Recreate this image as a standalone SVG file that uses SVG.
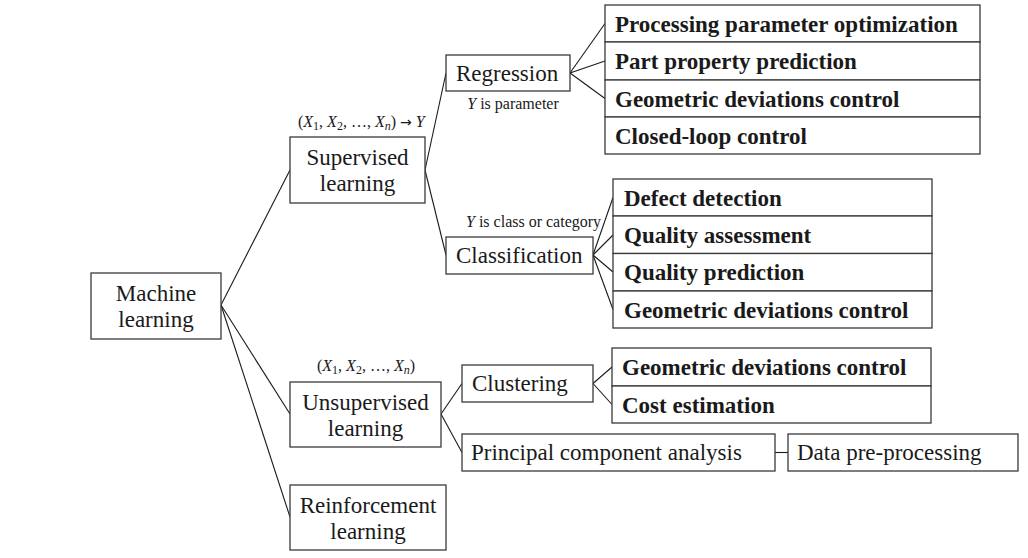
<svg xmlns="http://www.w3.org/2000/svg" width="1028" height="558" viewBox="0 0 1028 558">
<style>
.box{fill:#fff;stroke:#3a3a3a;stroke-width:1.3}
.t{font-family:"Liberation Serif","Times New Roman",serif;font-size:23px;fill:#1a1a1a}
.c{text-anchor:middle}
.b{font-family:"Liberation Serif","Times New Roman",serif;font-size:23px;font-weight:bold;fill:#1a1a1a}
.s{font-family:"Liberation Serif","Times New Roman",serif;font-size:16px;fill:#1a1a1a}
.i{font-style:italic}
.sub{font-size:12px}
.arr{font-family:"DejaVu Sans",sans-serif;font-size:14px}
.conn line{stroke:#1a1a1a;stroke-width:1.1}
</style>
<g class="conn" id="connectors">
<line x1="221" y1="305" x2="290" y2="170"/>
<line x1="221" y1="305" x2="290" y2="414"/>
<line x1="221" y1="305" x2="290" y2="517"/>
<line x1="425" y1="170" x2="446" y2="73"/>
<line x1="425" y1="170" x2="446" y2="255"/>
<line x1="570" y1="73" x2="605" y2="23.5"/>
<line x1="570" y1="73" x2="605" y2="61"/>
<line x1="570" y1="73" x2="605" y2="98.5"/>
<line x1="593" y1="255" x2="613" y2="197.5"/>
<line x1="593" y1="255" x2="613" y2="235"/>
<line x1="593" y1="255" x2="613" y2="272"/>
<line x1="593" y1="255" x2="613" y2="309.5"/>
<line x1="441" y1="414" x2="462" y2="383.5"/>
<line x1="441" y1="414" x2="462" y2="452.5"/>
<line x1="593" y1="383.5" x2="612" y2="367"/>
<line x1="593" y1="383.5" x2="612" y2="404.5"/>
<line x1="775" y1="452.5" x2="788" y2="452.5"/>
</g>
<g id="machine-learning">
<rect class="box" x="91" y="273" width="130" height="66"/>
<text class="t c" x="156" y="301">Machine</text>
<text class="t c" x="156" y="327">learning</text>
</g>
<g id="supervised">
<rect class="box" x="290" y="137" width="135" height="66"/>
<text class="t c" x="357.5" y="165">Supervised</text>
<text class="t c" x="357.5" y="191">learning</text>
<text class="s" x="298" y="127">(<tspan class="i">X</tspan><tspan class="sub" dy="3">1</tspan><tspan dy="-3">, </tspan><tspan class="i">X</tspan><tspan class="sub" dy="3">2</tspan><tspan dy="-3">, …, </tspan><tspan class="i">X</tspan><tspan class="sub i" dy="3">n</tspan><tspan dy="-3">) </tspan><tspan class="arr">→</tspan><tspan> </tspan><tspan class="i">Y</tspan></text>
</g>
<g id="unsupervised">
<rect class="box" x="290" y="382" width="151" height="65"/>
<text class="t c" x="365.5" y="410">Unsupervised</text>
<text class="t c" x="365.5" y="436">learning</text>
<text class="s" x="317" y="371">(<tspan class="i">X</tspan><tspan class="sub" dy="3">1</tspan><tspan dy="-3">, </tspan><tspan class="i">X</tspan><tspan class="sub" dy="3">2</tspan><tspan dy="-3">, …, </tspan><tspan class="i">X</tspan><tspan class="sub i" dy="3">n</tspan><tspan dy="-3">)</tspan></text>
</g>
<g id="reinforcement">
<rect class="box" x="290" y="485" width="156" height="65"/>
<text class="t c" x="368" y="513">Reinforcement</text>
<text class="t c" x="368" y="539">learning</text>
</g>
<g id="regression">
<rect class="box" x="446" y="55" width="124" height="36"/>
<text class="t" x="456" y="81">Regression</text>
<text class="s c" x="513" y="109"><tspan class="i">Y</tspan> is parameter</text>
</g>
<g id="classification">
<rect class="box" x="446" y="237" width="147" height="37"/>
<text class="t" x="456" y="263">Classification</text>
<text class="s" x="466" y="227"><tspan class="i">Y</tspan> is class or category</text>
</g>
<g id="clustering">
<rect class="box" x="462" y="365" width="131" height="37"/>
<text class="t" x="472" y="391">Clustering</text>
</g>
<g id="pca">
<rect class="box" x="462" y="434" width="313" height="37"/>
<text class="t" x="471" y="460">Principal component analysis</text>
</g>
<g id="data-preprocessing">
<rect class="box" x="788" y="434" width="230" height="37"/>
<text class="t" x="797" y="460">Data pre-processing</text>
</g>
<g id="regression-apps">
<rect class="box" x="605" y="5" width="375" height="37"/>
<rect class="box" x="605" y="42" width="375" height="38"/>
<rect class="box" x="605" y="80" width="375" height="37"/>
<rect class="box" x="605" y="117" width="375" height="37"/>
<text class="b" x="615" y="31.5">Processing parameter optimization</text>
<text class="b" x="615" y="69">Part property prediction</text>
<text class="b" x="615" y="106.5">Geometric deviations control</text>
<text class="b" x="615" y="143.5">Closed-loop control</text>
</g>
<g id="classification-apps">
<rect class="box" x="613" y="179" width="319" height="37"/>
<rect class="box" x="613" y="216" width="319" height="37.5"/>
<rect class="box" x="613" y="253.5" width="319" height="37.5"/>
<rect class="box" x="613" y="291" width="319" height="37"/>
<text class="b" x="624" y="205.5">Defect detection</text>
<text class="b" x="624" y="243">Quality assessment</text>
<text class="b" x="624" y="280">Quality prediction</text>
<text class="b" x="624" y="317.5">Geometric deviations control</text>
</g>
<g id="clustering-apps">
<rect class="box" x="612" y="348" width="319" height="38"/>
<rect class="box" x="612" y="386" width="319" height="37"/>
<text class="b" x="622" y="375">Geometric deviations control</text>
<text class="b" x="622" y="412.5">Cost estimation</text>
</g>
</svg>
